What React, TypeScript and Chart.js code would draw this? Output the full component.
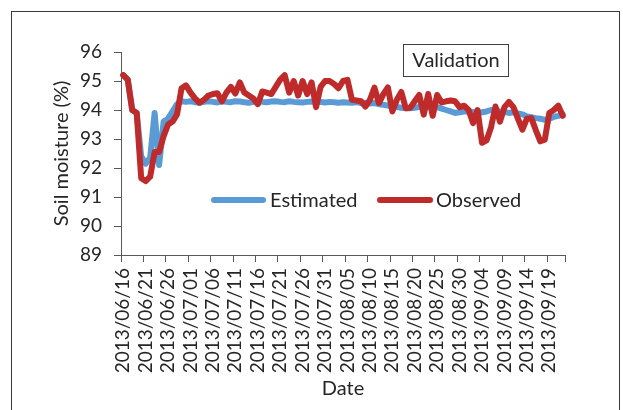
import React, { useEffect, useRef } from "react";
import { Chart, registerables } from "chart.js";

Chart.register(...registerables);

// Daily sampling dates, 2013/06/16 – 2013/09/22
const dates: string[] = [
  "2013/06/16", "2013/06/17", "2013/06/18", "2013/06/19", "2013/06/20", "2013/06/21", "2013/06/22", "2013/06/23",
  "2013/06/24", "2013/06/25", "2013/06/26", "2013/06/27", "2013/06/28", "2013/06/29", "2013/06/30",
  "2013/07/01", "2013/07/02", "2013/07/03", "2013/07/04", "2013/07/05", "2013/07/06", "2013/07/07", "2013/07/08",
  "2013/07/09", "2013/07/10", "2013/07/11", "2013/07/12", "2013/07/13", "2013/07/14", "2013/07/15", "2013/07/16",
  "2013/07/17", "2013/07/18", "2013/07/19", "2013/07/20", "2013/07/21", "2013/07/22", "2013/07/23", "2013/07/24",
  "2013/07/25", "2013/07/26", "2013/07/27", "2013/07/28", "2013/07/29", "2013/07/30", "2013/07/31",
  "2013/08/01", "2013/08/02", "2013/08/03", "2013/08/04", "2013/08/05", "2013/08/06", "2013/08/07", "2013/08/08",
  "2013/08/09", "2013/08/10", "2013/08/11", "2013/08/12", "2013/08/13", "2013/08/14", "2013/08/15", "2013/08/16",
  "2013/08/17", "2013/08/18", "2013/08/19", "2013/08/20", "2013/08/21", "2013/08/22", "2013/08/23", "2013/08/24",
  "2013/08/25", "2013/08/26", "2013/08/27", "2013/08/28", "2013/08/29", "2013/08/30", "2013/08/31",
  "2013/09/01", "2013/09/02", "2013/09/03", "2013/09/04", "2013/09/05", "2013/09/06", "2013/09/07", "2013/09/08",
  "2013/09/09", "2013/09/10", "2013/09/11", "2013/09/12", "2013/09/13", "2013/09/14", "2013/09/15", "2013/09/16",
  "2013/09/17", "2013/09/18", "2013/09/19", "2013/09/20", "2013/09/21", "2013/09/22",
];

// Modelled soil moisture (%)
const estimated: number[] = [
  95.2, 95.05, 94.0, 93.9, 92.4, 92.15, 92.35, 93.9, 92.1, 93.6,
  93.7, 93.95, 94.2, 94.3, 94.28, 94.3, 94.27, 94.25, 94.28, 94.3,
  94.28, 94.26, 94.3, 94.28, 94.27, 94.3, 94.29, 94.27, 94.25, 94.28,
  94.3, 94.28, 94.27, 94.29, 94.3, 94.28, 94.27, 94.3, 94.28, 94.27,
  94.26, 94.28, 94.29, 94.27, 94.28, 94.26, 94.28, 94.27, 94.25, 94.27,
  94.26, 94.25, 94.27, 94.24, 94.25, 94.22, 94.24, 94.2, 94.18, 94.15,
  94.12, 94.1, 94.08, 94.06, 94.06, 94.08, 94.1, 94.12, 94.1, 94.12,
  94.1, 94.05, 94.0, 93.95, 93.9, 93.92, 93.95, 93.95, 93.93, 93.9,
  93.92, 93.95, 94.0, 93.98, 93.95, 93.93, 93.9, 93.92, 93.88, 93.85,
  93.78, 93.75, 93.72, 93.7, 93.66, 93.7, 93.76, 93.8, 93.85,
];

// Measured soil moisture (%)
const observed: number[] = [
  95.2, 95.05, 94.0, 93.9, 91.65, 91.55, 91.7, 92.55, 92.55, 93.1,
  93.5, 93.6, 93.85, 94.75, 94.85, 94.6, 94.4, 94.25, 94.35, 94.5,
  94.55, 94.58, 94.3, 94.6, 94.8, 94.57, 94.95, 94.6, 94.5, 94.4,
  94.2, 94.64, 94.6, 94.55, 94.8, 95.05, 95.2, 94.6, 95.0, 94.5,
  95.0, 94.55, 94.95, 94.1, 94.8, 95.0, 95.0, 94.9, 94.75, 95.0,
  95.04, 94.35, 94.33, 94.3, 94.12, 94.35, 94.77, 94.24, 94.55, 94.78,
  93.95, 94.35, 94.62, 94.06, 94.08, 94.3, 94.52, 93.84, 94.55, 93.8,
  94.52, 94.26, 94.3, 94.33, 94.3, 94.1, 94.15, 94.0, 93.55, 94.0,
  92.87, 92.95, 93.4, 94.12, 93.6, 94.1, 94.28, 94.1, 93.7, 93.32,
  93.7, 93.72, 93.3, 92.92, 92.98, 93.9, 94.0, 94.15, 93.8,
];

const yTicks = { min: 89, max: 96, step: 1 };

const FONT = 'Lato, "Open Sans", sans-serif';
const TEXT = "#262626";
const AXIS = "#595959";
const FRAME = "#3a3a3a";
const BLUE = "#5B9BD5";
const RED = "#BF2A2A";

const decorations = {
  id: "decorations",
  afterDraw(chart: Chart) {
    const { ctx } = chart;
    ctx.save();

    // outer frame of the figure
    ctx.strokeStyle = FRAME;
    ctx.lineWidth = 1;
    ctx.strokeRect(11.5, 11.5, 608, 420);

    // "Validation" label box
    ctx.strokeStyle = "#404040";
    ctx.strokeRect(403.5, 44.5, 105, 32);
    ctx.fillStyle = TEXT;
    ctx.font = `20px ${FONT}`;
    ctx.textAlign = "center";
    ctx.textBaseline = "middle";
    ctx.fillText("Validation", 456, 61);

    // legend
    const ly = 200;
    const items = [
      { color: BLUE, x0: 214, x1: 263, label: "Estimated", tx: 270 },
      { color: RED, x0: 380, x1: 430, label: "Observed", tx: 436 },
    ];
    ctx.lineCap = "round";
    ctx.lineWidth = 6;
    ctx.textAlign = "left";
    for (const it of items) {
      ctx.strokeStyle = it.color;
      ctx.beginPath();
      ctx.moveTo(it.x0, ly);
      ctx.lineTo(it.x1, ly);
      ctx.stroke();
      ctx.fillStyle = TEXT;
      ctx.fillText(it.label, it.tx, ly + 1);
    }
    ctx.restore();
  },
};

export default function App() {
  const canvasRef = useRef<HTMLCanvasElement | null>(null);

  useEffect(() => {
    if (!canvasRef.current) return;
    const tickFont = { family: FONT, size: 19 };
    const titleFont = { family: FONT, size: 20, lineHeight: 1.2 };

    const chart = new Chart(canvasRef.current, {
      type: "line",
      data: {
        labels: dates,
        datasets: [
          {
            label: "Estimated",
            data: estimated,
            borderColor: BLUE,
            backgroundColor: BLUE,
            borderWidth: 6,
            pointRadius: 0,
            tension: 0,
            fill: false,
            borderJoinStyle: "round",
            borderCapStyle: "round",
            order: 2,
          },
          {
            label: "Observed",
            data: observed,
            borderColor: RED,
            backgroundColor: RED,
            borderWidth: 6,
            pointRadius: 0,
            tension: 0,
            fill: false,
            borderJoinStyle: "round",
            borderCapStyle: "round",
            order: 1,
          },
        ],
      },
      options: {
        animation: false,
        responsive: true,
        maintainAspectRatio: false,
        devicePixelRatio: 1,
        layout: { padding: { left: 50, top: 52, right: 58, bottom: 9 } },
        plugins: {
          legend: { display: false },
          tooltip: { enabled: false },
        },
        scales: {
          x: {
            type: "category",
            offset: true,
            grid: {
              offset: true,
              drawOnChartArea: false,
              tickLength: 7,
              tickWidth: 1,
              tickColor: (c: any) =>
                c.index === undefined || c.index % 5 === 0 ? AXIS : "rgba(0,0,0,0)",
            },
            border: { display: true, color: AXIS, width: 1 },
            ticks: {
              autoSkip: false,
              minRotation: 90,
              maxRotation: 90,
              padding: 6,
              color: TEXT,
              font: tickFont,
              callback: (_v: any, i: number) => (i % 5 === 0 ? dates[i] : ""),
            },
            title: {
              display: true,
              text: "Date",
              color: TEXT,
              font: titleFont,
              padding: 0,
            },
            afterFit: (s: any) => {
              s.height = 146;
            },
          },
          y: {
            min: yTicks.min,
            max: yTicks.max,
            grid: {
              drawOnChartArea: false,
              tickLength: 7,
              tickColor: AXIS,
            },
            border: { display: true, color: AXIS, width: 1 },
            ticks: {
              stepSize: yTicks.step,
              padding: 12,
              color: TEXT,
              font: tickFont,
            },
            title: {
              display: true,
              text: "Soil moisture (%)",
              color: TEXT,
              font: titleFont,
              padding: 0,
            },
            afterFit: (s: any) => {
              s.width = 71;
            },
          },
        },
      },
      plugins: [decorations],
    });

    return () => chart.destroy();
  }, []);

  return (
    <div style={{ position: "fixed", left: 0, top: 0, width: 623, height: 410, background: "#fff" }}>
      <canvas ref={canvasRef} />
    </div>
  );
}
